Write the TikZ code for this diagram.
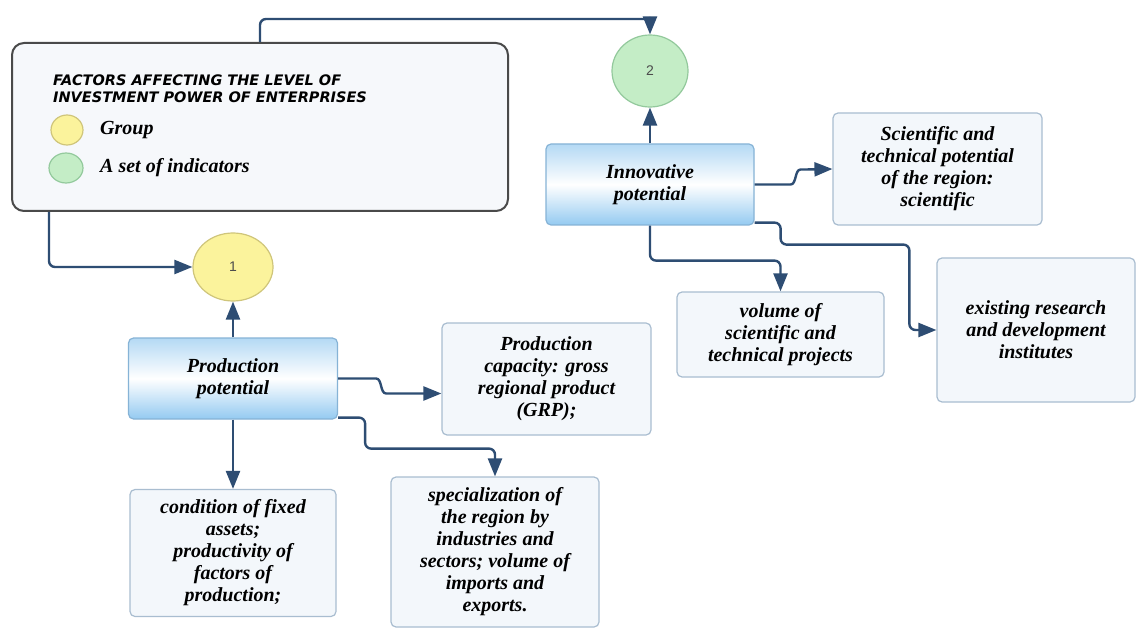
\documentclass[tikz,border=0pt]{standalone}
\usepackage{fontspec}
\setmainfont{Liberation Serif}
\setsansfont{Liberation Sans}
\newfontfamily\headfont{DejaVu Sans}
\usetikzlibrary{arrows.meta,shapes.geometric}
\definecolor{linkblue}{HTML}{2E4D73}
\definecolor{boxfill}{HTML}{F3F7FB}
\definecolor{boxedge}{HTML}{A9BDD0}
\definecolor{legfill}{HTML}{F6F8FB}
\definecolor{legedge}{HTML}{4A4A4A}
\definecolor{pottop}{HTML}{B4D9F4}
\definecolor{potbot}{HTML}{94CAF1}
\definecolor{potedge}{HTML}{86B3D6}
\definecolor{grpfill}{HTML}{FBF39C}
\definecolor{grpedge}{HTML}{CFC57A}
\definecolor{setfill}{HTML}{C4EDC6}
\definecolor{setedge}{HTML}{93C99C}

\begin{document}
\begin{tikzpicture}[x=1pt,y=-1pt,
  box/.style={draw=boxedge,fill=boxfill,rounded corners=5pt,line width=1.2pt,align=center,inner sep=2pt,
    font=\fontsize{20}{22}\selectfont\bfseries\itshape},
  potbox/.style={box,draw=potedge,top color=pottop,bottom color=potbot,middle color=white},
  conn/.style={draw=linkblue,line width=2.4pt,rounded corners=6pt,-{Triangle[length=18pt,width=14pt]}},
  numdot/.style={ellipse,line width=1.2pt,inner sep=0pt,text=black!70,font=\sffamily\fontsize{14}{14}\selectfont},
  legtext/.style={anchor=west,inner sep=0pt,font=\fontsize{20}{22}\selectfont\bfseries\itshape}]
\fill[white] (0,0) rectangle (1137,628);
\useasboundingbox (0,0) rectangle (1137,628);

\node[draw=legedge,fill=legfill,line width=2pt,rounded corners=12pt,minimum width=496pt,minimum height=168pt] (legend) at (260,127) {};
\node[anchor=west,align=left,inner sep=0pt,font=\headfont\bfseries\itshape\fontsize{14.5}{17}\selectfont] (title) at (53,88.5) {FACTORS AFFECTING THE LEVEL OF\\INVESTMENT POWER OF ENTERPRISES};
\node[numdot,draw=grpedge,fill=grpfill,minimum width=32pt,minimum height=30pt] (grpdot) at (67,130) {};
\node[legtext] (grplabel) at (100,130) {Group};
\node[numdot,draw=setedge,fill=setfill,minimum width=34pt,minimum height=30pt] (setdot) at (66,168) {};
\node[legtext] (setlabel) at (100,168) {A set of indicators};

\node[numdot,draw=grpedge,fill=grpfill,minimum width=80pt,minimum height=68pt] (c1) at (233,267) {1};
\node[numdot,draw=setedge,fill=setfill,minimum width=76pt,minimum height=72pt] (c2) at (650,71) {2};

\node[potbox,minimum width=209pt,minimum height=81pt] (prod) at (233,378.5) {Production\\potential};
\node[box,minimum width=206pt,minimum height=127pt] (cond) at (233,553) {condition of fixed\\assets;\\productivity of\\factors of\\production;};
\node[box,minimum width=208pt,minimum height=150pt] (spec) at (495,552) {specialization of\\the region by\\industries and\\sectors; volume of\\imports and\\exports.};
\node[box,minimum width=209pt,minimum height=112pt] (cap) at (546.5,379) {Production\\capacity: gross\\regional product\\(GRP);};

\node[potbox,minimum width=208pt,minimum height=81pt] (inno) at (650,184.5) {Innovative\\potential};
\node[box,minimum width=209pt,minimum height=112pt] (sci) at (937.5,169) {Scientific and\\technical potential\\of the region:\\scientific};
\node[box,minimum width=207pt,minimum height=85pt] (vol) at (780.5,334.5) {volume of\\scientific and\\technical projects};
\node[box,minimum width=198pt,minimum height=144pt] (res) at (1036,330) {existing research\\and development\\institutes};

\draw[conn] (legend.north) -- ++(0,-23) -| (c2.north);
\draw[conn] ([xshift=38pt]legend.south west) |- (c1.west);
\draw[conn] (prod.north) -- (c1.south);
\draw[conn] (prod.south) -- (cond.north);
\draw[conn] (prod.east) -- ++(32,0) .. controls +(12,0) and +(-12,0) .. ++(22,15) -- ([yshift=-14.5pt]cap.west);
\draw[conn] ([yshift=2pt]prod.south east) -- ++(27,0) -- ++(0,31) -| (spec.north);
\draw[conn] (inno.north) -- (c2.south);
\draw[conn] (inno.east) -- ++(30,0) .. controls +(12,0) and +(-12,0) .. ++(22,-15) -- (sci.west);
\draw[conn] (inno.south) -- ++(0,35) -| (vol.north);
\draw[conn] ([yshift=3pt]inno.south east) -- ++(26,0) -- ++(0,22) -| ([xshift=-27pt]res.west) -- (res.west);
\end{tikzpicture}
\end{document}
